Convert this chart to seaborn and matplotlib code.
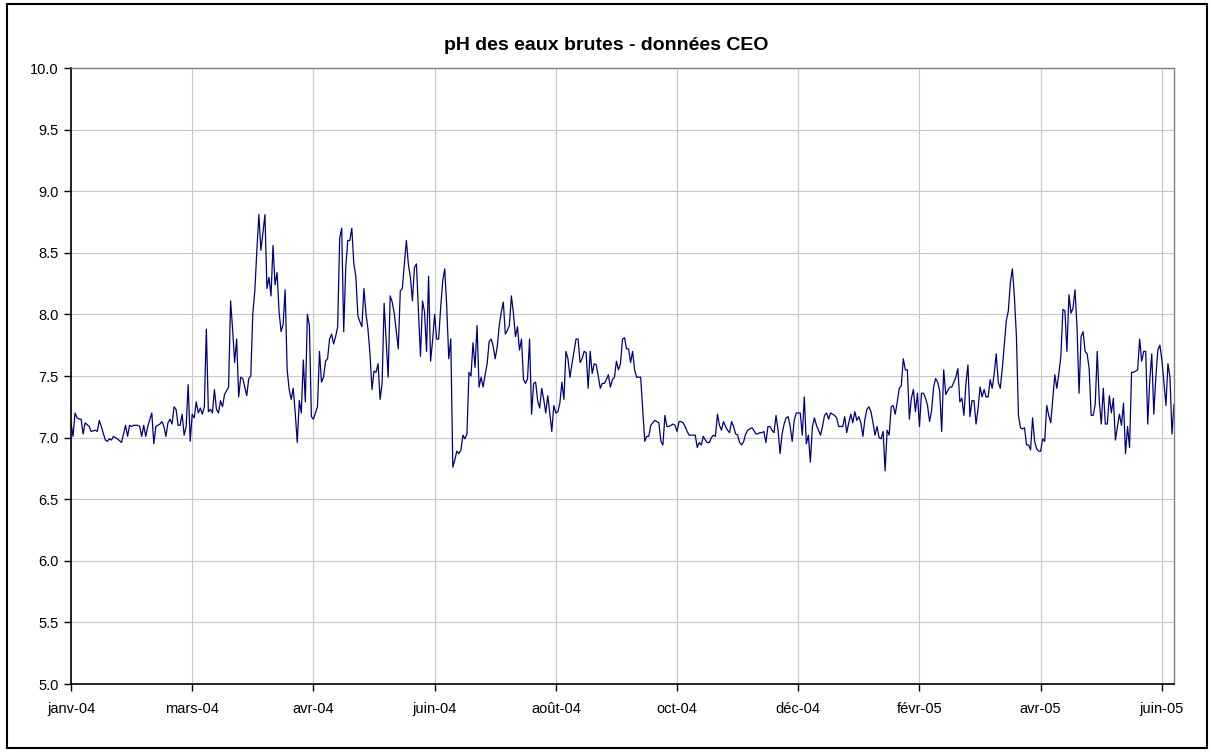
import matplotlib
matplotlib.use('Agg')
import matplotlib.pyplot as plt
import matplotlib.dates as mdates
from matplotlib.patches import Rectangle
from matplotlib.ticker import FormatStrFormatter, MultipleLocator
import pandas as pd
import seaborn as sns

# daily raw-water pH readings, day offsets counted from 1 Jan 2004
start = pd.Timestamp('2004-01-01')
days = [0, 1, 2, 3, 4, 5, 6, 7, 9, 10, 12, 13, 14, 15, 17, 18, 19, 20, 21, 23,
        25, 27, 28, 29, 30, 31, 33, 34, 35, 36, 37, 38, 40, 41, 42, 44, 45, 46, 47, 48,
        49, 50, 51, 52, 53, 54, 55, 56, 57, 58, 59, 60, 61, 62, 63, 64, 65, 66, 67, 68,
        69, 70, 71, 72, 73, 74, 75, 76, 78, 79, 80, 81, 82, 83, 84, 85, 87, 88, 89] \
    + list(range(90, 283)) + list(range(284, 547))

ph = [7.12, 7.01, 7.20, 7.16, 7.15, 7.15, 7.03, 7.12, 7.09, 7.05,
      7.06, 7.05, 7.14, 7.09, 6.98, 6.97, 6.99, 6.98, 7.01, 6.99,
      6.96, 7.10, 7.01, 7.10, 7.09, 7.10, 7.10, 7.09, 7.01, 7.10,
      7.01, 7.09, 7.20, 6.95, 7.09, 7.11, 7.13, 7.09, 7.01, 7.12,
      7.15, 7.11, 7.25, 7.23, 7.10, 7.10, 7.19, 7.02, 7.09, 7.43,
      6.97, 7.19, 7.16, 7.29, 7.20, 7.24, 7.19, 7.25, 7.88, 7.21,
      7.23, 7.20, 7.39, 7.23, 7.20, 7.30, 7.25, 7.35, 7.41, 8.11,
      7.88, 7.61, 7.80, 7.33, 7.49, 7.48, 7.34, 7.48, 7.50,
      # day 90 onwards
      8.01, 8.19, 8.52, 8.81, 8.52, 8.66, 8.81, 8.21, 8.30, 8.15,
      8.56, 8.24, 8.34, 8.02, 7.86, 7.92, 8.20, 7.55, 7.39, 7.31,
      7.40, 7.20, 6.96, 7.30, 7.20, 7.63, 7.29, 8.00, 7.91, 7.17,
      7.15, 7.20, 7.25, 7.70, 7.45, 7.49, 7.62, 7.64, 7.80, 7.84,
      7.76, 7.82, 7.90, 8.62, 8.70, 7.86, 8.38, 8.60, 8.60, 8.70,
      8.41, 8.31, 7.99, 7.94, 7.90, 8.21, 8.01, 7.88, 7.68, 7.39,
      7.54, 7.53, 7.60, 7.31, 7.44, 8.09, 7.79, 7.49, 8.15, 8.10,
      8.01, 7.87, 7.72, 8.19, 8.21, 8.41, 8.60, 8.41, 8.30, 8.11,
      8.38, 8.41, 8.02, 7.66, 8.11, 8.02, 7.70, 8.31, 7.62, 7.79,
      8.00, 7.80, 7.80, 8.06, 8.27, 8.37, 8.06, 7.64, 7.80, 6.76,
      6.82, 6.89, 6.87, 6.90, 7.02, 6.99, 7.03, 7.53, 7.50, 7.77,
      7.57, 7.91, 7.41, 7.49, 7.41, 7.51, 7.60, 7.78, 7.80, 7.74,
      7.64, 7.74, 7.91, 8.02, 8.10, 7.84, 7.87, 7.91, 8.15, 8.01,
      7.82, 7.90, 7.71, 7.80, 7.47, 7.44, 7.48, 7.80, 7.19, 7.44,
      7.45, 7.30, 7.24, 7.40, 7.31, 7.20, 7.34, 7.20, 7.05, 7.26,
      7.20, 7.21, 7.28, 7.45, 7.31, 7.70, 7.64, 7.49, 7.60, 7.70,
      7.80, 7.80, 7.61, 7.64, 7.70, 7.69, 7.40, 7.70, 7.52, 7.60,
      7.59, 7.50, 7.40, 7.44, 7.44, 7.47, 7.51, 7.41, 7.47, 7.49,
      7.62, 7.55, 7.60, 7.80, 7.81, 7.72, 7.72, 7.61, 7.70, 7.55,
      7.49, 7.49, 7.49,
      # day 284 onwards
      6.97, 7.01, 7.01, 7.10, 7.12, 7.14, 7.13, 7.12, 6.97, 6.94,
      7.18, 7.09, 7.09, 7.10, 7.11, 7.10, 7.05, 7.13, 7.13, 7.12,
      7.09, 7.05, 7.02, 7.02, 7.02, 7.02, 6.92, 6.96, 6.94, 7.01,
      6.98, 6.96, 6.96, 7.00, 7.02, 7.01, 7.19, 7.10, 7.06, 7.13,
      7.09, 7.06, 7.04, 7.13, 7.09, 7.03, 7.02, 6.96, 6.94, 6.97,
      7.03, 7.06, 7.07, 7.08, 7.06, 7.03, 7.03, 7.04, 7.04, 7.05,
      6.96, 7.09, 7.09, 7.06, 7.04, 7.18, 7.06, 6.87, 7.03, 7.11,
      7.16, 7.17, 7.09, 6.97, 7.14, 7.20, 7.20, 7.20, 7.02, 7.33,
      6.95, 7.02, 6.80, 7.09, 7.16, 7.10, 7.06, 7.02, 7.09, 7.18,
      7.20, 7.15, 7.20, 7.19, 7.18, 7.16, 7.09, 7.09, 7.09, 7.17,
      7.04, 7.12, 7.19, 7.12, 7.21, 7.14, 7.17, 7.12, 7.01, 7.15,
      7.23, 7.25, 7.21, 7.12, 7.02, 7.09, 7.00, 6.99, 7.05, 6.73,
      7.06, 7.02, 7.25, 7.26, 7.19, 7.29, 7.40, 7.42, 7.64, 7.55,
      7.55, 7.15, 7.32, 7.39, 7.21, 7.36, 7.09, 7.36, 7.36, 7.32,
      7.26, 7.13, 7.22, 7.41, 7.48, 7.45, 7.38, 7.05, 7.55, 7.35,
      7.38, 7.41, 7.41, 7.45, 7.49, 7.56, 7.29, 7.32, 7.18, 7.44,
      7.59, 7.17, 7.30, 7.30, 7.11, 7.23, 7.41, 7.33, 7.39, 7.33,
      7.33, 7.47, 7.40, 7.52, 7.68, 7.45, 7.40, 7.56, 7.75, 7.95,
      8.03, 8.26, 8.37, 8.14, 7.82, 7.18, 7.08, 7.07, 7.08, 6.94,
      6.94, 6.90, 7.16, 6.97, 6.91, 6.89, 6.89, 6.99, 6.97, 7.26,
      7.18, 7.12, 7.32, 7.51, 7.40, 7.52, 7.66, 8.04, 8.03, 7.70,
      8.16, 8.01, 8.05, 8.20, 7.89, 7.36, 7.82, 7.86, 7.70, 7.68,
      7.56, 7.18, 7.18, 7.27, 7.70, 7.30, 7.11, 7.40, 7.11, 7.11,
      7.34, 7.20, 7.32, 6.98, 7.09, 7.19, 7.10, 7.28, 6.87, 7.09,
      6.92, 7.53, 7.53, 7.54, 7.55, 7.80, 7.62, 7.70, 7.70, 7.11,
      7.47, 7.68, 7.19, 7.49, 7.71, 7.75, 7.63, 7.45, 7.26, 7.60,
      7.49, 7.03, 7.27]

tick_days = [0, 60, 120, 180, 240, 300, 360, 420, 480, 540]
tick_labels = ['janv-04', 'mars-04', 'avr-04', 'juin-04', 'août-04',
               'oct-04', 'déc-04', 'févr-05', 'avr-05', 'juin-05']
title = 'pH des eaux brutes - données CEO'

sns.set_style('white')
plt.rcParams['font.family'] = ['Liberation Sans', 'DejaVu Sans']
plt.rcParams['text.color'] = 'black'

df = pd.DataFrame({'date': start + pd.to_timedelta(days, unit='D'), 'pH': ph})

fig = plt.figure(figsize=(12.12, 7.52), dpi=100)
ax = fig.add_axes([71 / 1212, 1 - 684 / 752, (1174 - 71) / 1212, (684 - 68) / 752])
sns.lineplot(data=df, x='date', y='pH', ax=ax, color='#000080', linewidth=0.9)

ax.set_xlim(mdates.date2num(start), mdates.date2num(start + pd.Timedelta(days=546)))
ax.set_ylim(5, 10)
ax.yaxis.set_major_locator(MultipleLocator(0.5))
ax.yaxis.set_major_formatter(FormatStrFormatter('%.1f'))
ax.set_xticks([mdates.date2num(start + pd.Timedelta(days=d)) for d in tick_days])
ax.set_xticklabels(tick_labels)
ax.set_xlabel('')
ax.set_ylabel('')

ax.grid(True, color='#c8c8c8', linewidth=0.8)
for side in ['left', 'bottom']:
    ax.spines[side].set_color('black')
    ax.spines[side].set_linewidth(1.2)
for side in ['top', 'right']:
    ax.spines[side].set_color('#808080')
    ax.spines[side].set_linewidth(1.0)
ax.tick_params(bottom=True, left=True, direction='out', length=5, width=1,
               color='black', labelcolor='black', labelsize=10.5, pad=4)
ax.tick_params(axis='x', pad=8)

# title is centred on the whole chart area, not on the plot area
fig.text(0.5, 1 - 45 / 752, title, ha='center', va='center',
         fontweight='bold', fontsize=14, color='black')

fig.patches.append(Rectangle((7 / 1212, 4 / 752), 1200 / 1212, 744 / 752,
                             transform=fig.transFigure, fill=False,
                             edgecolor='black', linewidth=1.5))

fig.savefig('out.png', dpi=100)
